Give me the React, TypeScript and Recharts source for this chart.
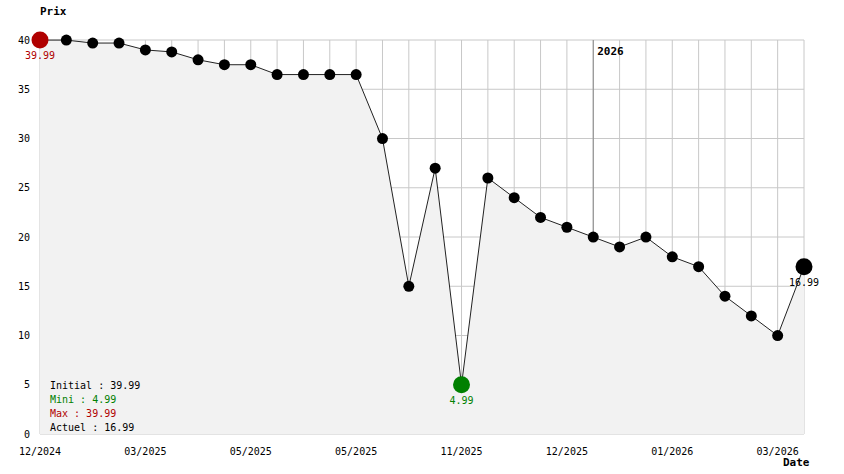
import React from 'react';
import {
  ComposedChart,
  Area,
  Line,
  XAxis,
  YAxis,
  CartesianGrid,
  ReferenceLine,
} from 'recharts';

// one price per observation, oldest -> newest
const prices = [
  39.99, 39.99, 39.69, 39.69, 38.99, 38.79, 37.99, 37.49, 37.49, 36.49,
  36.49, 36.49, 36.49, 29.99, 14.99, 26.99, 4.99, 25.99, 23.99, 21.99,
  20.99, 19.99, 18.99, 19.99, 17.99, 16.99, 13.99, 11.99, 9.99, 16.99,
];
const tickIndices = [0, 4, 8, 12, 16, 20, 24, 28];
const tickLabels = ['12/2024', '03/2025', '05/2025', '05/2025', '11/2025', '12/2025', '01/2026', '03/2026'];
const yTicks = [0, 5, 10, 15, 20, 25, 30, 35, 40];
const yearIndex = 21;
const yearLabel = '2026';

const MONO = '"DejaVu Sans Mono", "Liberation Mono", monospace';
const RED = '#b00000';
const GREEN = '#008000';

const data = prices.map((p, i) => ({ i, price: p }));
const minIdx = prices.indexOf(Math.min(...prices));
const maxIdx = prices.indexOf(Math.max(...prices));
const lastIdx = prices.length - 1;

function PriceDot(props: any) {
  const { cx, cy, index } = props;
  let color = '#000';
  let r = 5.5;
  let label = false;
  if (index === maxIdx) {
    color = RED;
    r = 8.5;
    label = true;
  } else if (index === minIdx) {
    color = GREEN;
    r = 8.5;
    label = true;
  } else if (index === lastIdx) {
    r = 8.5;
    label = true;
  }
  return (
    <g key={`dot-${index}`}>
      <circle cx={cx} cy={cy} r={r} fill={color} />
      {label && (
        <text x={cx} y={cy + 19} textAnchor="middle" fontFamily={MONO} fontSize={10} fill={color}>
          {prices[index].toFixed(2)}
        </text>
      )}
    </g>
  );
}

function YearLabel(props: any) {
  const { viewBox } = props;
  return (
    <text x={viewBox.x + 4} y={viewBox.y + 15} fontFamily={MONO} fontSize={11} fontWeight="bold" fill="#000">
      {yearLabel}
    </text>
  );
}

export default function App() {
  const stats = [
    { text: `Initial : ${prices[0].toFixed(2)}`, color: '#000' },
    { text: `Mini : ${prices[minIdx].toFixed(2)}`, color: GREEN },
    { text: `Max : ${prices[maxIdx].toFixed(2)}`, color: RED },
    { text: `Actuel : ${prices[lastIdx].toFixed(2)}`, color: '#000' },
  ];
  return (
    <div style={{ position: 'absolute', left: 0, top: 0, width: 844, height: 474, background: '#fff' }}>
      <ComposedChart width={844} height={474} data={data} margin={{ top: 40, right: 40, left: 0, bottom: 10 }}>
        <CartesianGrid
          stroke="#c8c8c8"
          verticalValues={data.map((d) => d.i)}
          horizontalValues={yTicks}
        />
        {/* year separator drawn as a grid line so the price area covers it */}
        <CartesianGrid stroke="#888" horizontal={false} verticalValues={[yearIndex]} />
        <ReferenceLine x={yearIndex} stroke="none" strokeOpacity={0} label={<YearLabel />} />
        <XAxis
          dataKey="i"
          type="number"
          domain={[0, lastIdx]}
          ticks={tickIndices}
          tickFormatter={(v: number) => tickLabels[tickIndices.indexOf(v)]}
          axisLine={false}
          tickLine={false}
          tickSize={0}
          tickMargin={14}
          height={30}
          interval={0}
          tick={{ fill: '#000', fontSize: 10, fontFamily: MONO }}
        />
        <YAxis
          domain={[0, 40]}
          ticks={yTicks}
          axisLine={false}
          tickLine={false}
          tickSize={0}
          tickMargin={10}
          width={40}
          interval={0}
          tick={{ fill: '#000', fontSize: 10, fontFamily: MONO }}
        />
        <Area
          dataKey="price"
          type="linear"
          fill="#f2f2f2"
          fillOpacity={1}
          stroke="none"
          isAnimationActive={false}
        />
        <Line
          dataKey="price"
          type="linear"
          stroke="#222"
          strokeWidth={1}
          dot={(p: any) => <PriceDot {...p} />}
          activeDot={false}
          isAnimationActive={false}
        />
      </ComposedChart>
      <div style={{ position: 'absolute', left: 40, top: 5, fontFamily: MONO, fontSize: 11, fontWeight: 'bold' }}>
        Prix
      </div>
      <div style={{ position: 'absolute', left: 783, top: 456, fontFamily: MONO, fontSize: 11, fontWeight: 'bold' }}>
        Date
      </div>
      <div style={{ position: 'absolute', left: 50, top: 379, fontFamily: MONO, fontSize: 10, lineHeight: '14px' }}>
        {stats.map((s) => (
          <div key={s.text} style={{ color: s.color, whiteSpace: 'pre' }}>
            {s.text}
          </div>
        ))}
      </div>
    </div>
  );
}
